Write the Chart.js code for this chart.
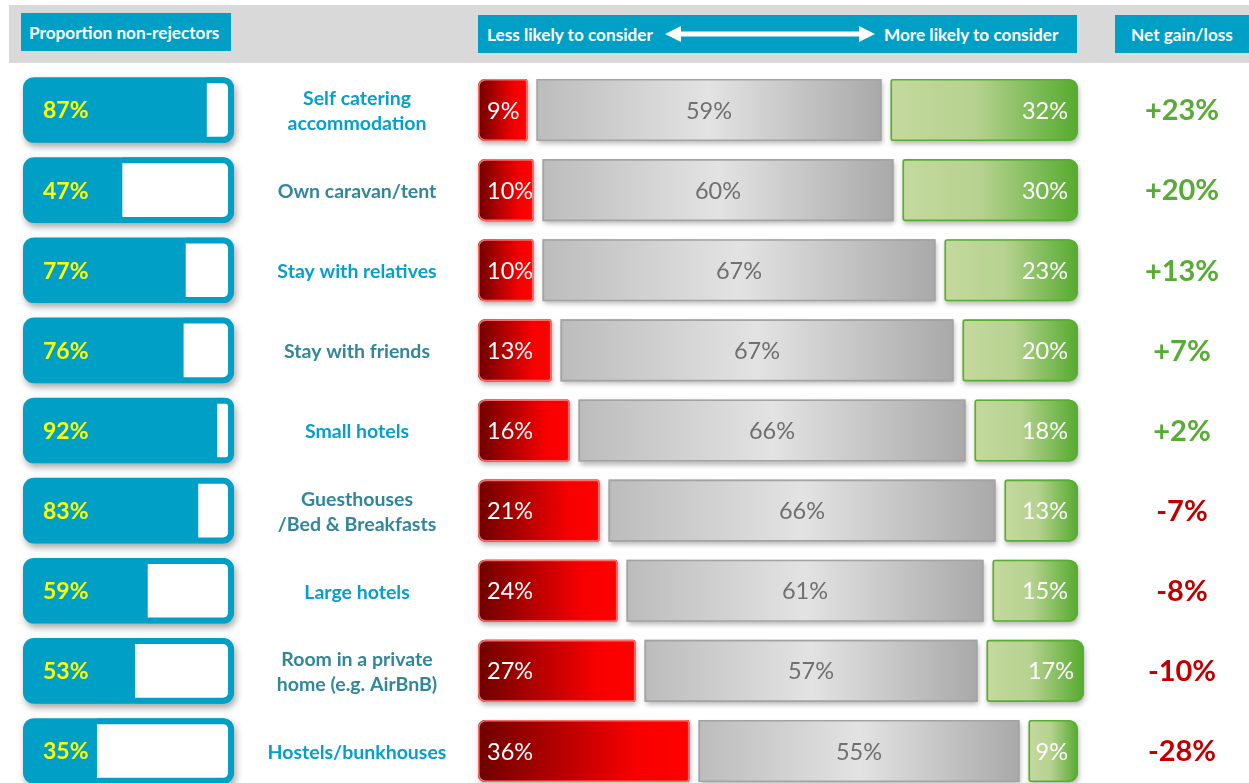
<!DOCTYPE html>
<html>
<head>
<meta charset="utf-8">
<title>Accommodation types: non-rejectors and likelihood to consider</title>
<script src="https://cdn.jsdelivr.net/npm/chart.js@4.4.1/dist/chart.umd.min.js"></script>
<style>
  html, body { margin: 0; padding: 0; background: #ffffff; }
  #wrap { position: relative; width: 1249px; height: 783px; overflow: hidden; font-family: Lato, "Open Sans", sans-serif; }
  #chart { position: absolute; left: 0; top: 0; }
  .band { position: absolute; left: 9px; top: 5px; width: 1240px; height: 58px; background: #d9d9d9; }
  .hbox { position: absolute; background: #00a0c6; color: #ffffff; font-weight: 700; font-size: 17.2px;
          display: flex; align-items: center; white-space: nowrap; box-sizing: border-box; }
  .hbox span { position: absolute; }
</style>
</head>
<body>
<div id="wrap">
  <canvas id="chart" width="1249" height="783"></canvas>
  <div class="band"></div>
  <div class="hbox" style="left:21px;top:13px;width:210px;height:38px;padding-left:8px;">Proportion non-rejectors</div>
  <div class="hbox" style="left:478px;top:15px;width:599px;height:38px;">
    <span style="left:9px;">Less likely to consider</span>
    <svg style="position:absolute;left:186px;top:10px;" width="212" height="18" viewBox="0 0 212 18">
      <polygon points="1,9 17,1 17,6.5 195,6.5 195,1 211,9 195,17 195,11.5 17,11.5 17,17" fill="#ffffff"/>
    </svg>
    <span style="left:406px;">More likely to consider</span>
  </div>
  <div class="hbox" style="left:1115px;top:15px;width:134px;height:38px;justify-content:center;">Net gain/loss</div>
</div>
<script>
// Accommodation types, top to bottom
const categories = [
  ['Self catering', 'accommodation'],
  'Own caravan/tent',
  'Stay with relatives',
  'Stay with friends',
  'Small hotels',
  ['Guesthouses', '/Bed & Breakfasts'],
  'Large hotels',
  ['Room in a private', 'home (e.g. AirBnB)'],
  'Hostels/bunkhouses'
];
// Share of respondents who do not reject each type (%)
const nonRejectors = [87, 47, 77, 76, 92, 83, 59, 53, 35];
// Likelihood to consider (%)
const lessLikely = [9, 10, 10, 13, 16, 21, 24, 27, 36];
const noChange   = [59, 60, 67, 67, 66, 66, 61, 57, 55];
const moreLikely = [32, 30, 23, 20, 18, 13, 15, 17, 9];
// Net gain / loss (%)
const netChange  = [23, 20, 13, 7, 2, -7, -8, -10, -28];

const BLUE = '#00a0c6';
const FONT = 'Lato, "Open Sans", sans-serif';

// Plot area spans x 23..1078; each value axis is mapped onto its own column
const AREA_L = 23, AREA_R = 1078;
const PROP_R = 234;            // right edge of the proportion column
const DIV_L = 478;             // left edge of the likelihood column
const propMax = 100 * (AREA_R - AREA_L) / (PROP_R - AREA_L);
const divMin = -100 * (DIV_L - AREA_L) / (AREA_R - DIV_L);

const fmtPct = v => v + '%';
const fmtNet = v => (v > 0 ? '+' : '') + v + '%';

// Segment bars: gradient fill, thin edge, small gaps between segments
const segmentPlugin = {
  id: 'segments',
  beforeDatasetDraw(chart, args) {
    const ds = chart.data.datasets[args.index];
    const ctx = chart.ctx;
    if (ds.shadowed) {
      ctx.save();
      ctx.shadowColor = 'rgba(0,0,0,0.35)';
      ctx.shadowBlur = 7;
      ctx.shadowOffsetX = 2;
      ctx.shadowOffsetY = 4;
      return;
    }
    if (!ds.seg) return;
    const s = ds.seg;
    args.meta.data.forEach(el => {
      const p = el.getProps(['x', 'y', 'base', 'height'], true);
      const l = Math.min(p.x, p.base) + s.gapL;
      const r = Math.max(p.x, p.base) - s.gapR;
      const t = p.y - p.height / 2, b = p.y + p.height / 2;
      const g = ctx.createLinearGradient(l, 0, r, 0);
      s.stops.forEach(([o, c]) => g.addColorStop(o, c));
      ctx.save();
      ctx.beginPath();
      ctx.roundRect(l, t, r - l, b - t, s.radii);
      ctx.shadowColor = 'rgba(0,0,0,0.28)';
      ctx.shadowBlur = 5;
      ctx.shadowOffsetX = 1;
      ctx.shadowOffsetY = 3;
      ctx.fillStyle = g;
      ctx.fill();
      ctx.shadowColor = 'transparent';
      ctx.lineWidth = 1.6;
      ctx.strokeStyle = s.edge;
      ctx.beginPath();
      ctx.roundRect(l + 0.8, t + 0.8, r - l - 1.6, b - t - 1.6, s.radii);
      ctx.stroke();
      ctx.restore();
    });
    return false;
  },
  afterDatasetDraw(chart, args) {
    const ds = chart.data.datasets[args.index];
    if (ds.shadowed) chart.ctx.restore();
  }
};

// Text: proportion values, category names, segment values, net change
const labelPlugin = {
  id: 'rowLabels',
  afterDatasetsDraw(chart) {
    const ctx = chart.ctx;
    const y = chart.scales.y, xp = chart.scales.xp;
    const segs = [2, 3, 4].map(i => chart.getDatasetMeta(i));
    ctx.save();
    ctx.textBaseline = 'middle';
    categories.forEach((cat, i) => {
      const cy = y.getPixelForValue(i);
      // proportion of non-rejectors
      ctx.font = '700 23px ' + FONT;
      ctx.fillStyle = '#ffff00';
      ctx.textAlign = 'left';
      ctx.fillText(fmtPct(nonRejectors[i]), xp.getPixelForValue(0) + 20, cy + 1);
      // category name
      ctx.font = '700 19.5px ' + FONT;
      ctx.fillStyle = i % 2 === 0 ? '#069fca' : '#31869b';
      ctx.textAlign = 'center';
      const lines = Array.isArray(cat) ? cat : [cat];
      lines.forEach((ln, k) => {
        ctx.fillText(ln, 357, cy + 1.5 + (k - (lines.length - 1) / 2) * 25);
      });
      // segment values
      ctx.font = '400 23.5px ' + FONT;
      const red = segs[0].data[i].getProps(['x', 'base'], true);
      const grey = segs[1].data[i].getProps(['x', 'base'], true);
      const green = segs[2].data[i].getProps(['x', 'base'], true);
      ctx.fillStyle = '#ffffff';
      ctx.textAlign = 'left';
      ctx.fillText(fmtPct(lessLikely[i]), Math.min(red.x, red.base) + 9, cy + 1);
      ctx.fillStyle = '#707070';
      ctx.textAlign = 'center';
      ctx.fillText(fmtPct(noChange[i]), (grey.x + grey.base) / 2, cy + 1);
      ctx.fillStyle = '#ffffff';
      ctx.textAlign = 'right';
      ctx.fillText(fmtPct(moreLikely[i]), Math.max(green.x, green.base) - 10, cy + 1);
      // net change
      ctx.font = '700 29px ' + FONT;
      ctx.fillStyle = netChange[i] > 0 ? '#58ab35' : '#c00000';
      ctx.textAlign = 'center';
      ctx.fillText(fmtNet(netChange[i]), 1182, cy + 1);
    });
    ctx.restore();
  }
};

const segCommon = { xAxisID: 'xs', stack: 'likelihood', grouped: false, clip: false,
                    barPercentage: 0.775, categoryPercentage: 1, order: 0 };

new Chart(document.getElementById('chart'), {
  type: 'bar',
  data: {
    labels: categories,
    datasets: [
      {
        label: 'All respondents',
        data: nonRejectors.map(() => 100),
        xAxisID: 'xp', grouped: false, clip: false, shadowed: true, order: 2,
        backgroundColor: BLUE, borderWidth: 0, borderRadius: 11, borderSkipped: false,
        barPercentage: 0.82, categoryPercentage: 1
      },
      {
        label: 'Rejectors',
        data: nonRejectors.map(v => [v, 100]),
        xAxisID: 'xp', grouped: false, clip: false, order: 1,
        backgroundColor: '#ffffff', borderColor: BLUE,
        borderWidth: { left: 0, top: 6, right: 6, bottom: 6 },
        borderRadius: { topLeft: 0, bottomLeft: 0, topRight: 11, bottomRight: 11 },
        borderSkipped: false,
        barPercentage: 0.82, categoryPercentage: 1
      },
      Object.assign({
        label: 'Less likely to consider', data: lessLikely,
        seg: { gapL: 0, gapR: 4.5, radii: [7, 2, 2, 7], edge: '#ff6b6b',
               stops: [[0, '#6e0000'], [0.35, '#b00000'], [0.75, '#f80000'], [1, '#ff0000']] }
      }, segCommon),
      Object.assign({
        label: 'No change', data: noChange,
        seg: { gapL: 4.5, gapR: 4.5, radii: [0, 0, 0, 0], edge: '#a3a3a3',
               stops: [[0, '#bcbcbc'], [0.5, '#e3e3e3'], [1, '#a9a9a9']] }
      }, segCommon),
      Object.assign({
        label: 'More likely to consider', data: moreLikely,
        seg: { gapL: 4.5, gapR: 0, radii: [2, 9, 9, 2], edge: '#5aad33',
               stops: [[0, '#c4d99e'], [0.45, '#b6d290'], [1, '#55ab2e']] }
      }, segCommon)
    ]
  },
  options: {
    indexAxis: 'y',
    responsive: false,
    animation: false,
    devicePixelRatio: 1,
    layout: { padding: { left: AREA_L, right: 1249 - AREA_R, top: 110, bottom: 32 } },
    plugins: { legend: { display: false }, tooltip: { enabled: false } },
    scales: {
      y: { type: 'category', offset: false, display: false, grid: { display: false } },
      xp: { type: 'linear', axis: 'x', min: 0, max: propMax, display: false },
      xs: { type: 'linear', axis: 'x', min: divMin, max: 100, stacked: true, display: false }
    }
  },
  plugins: [segmentPlugin, labelPlugin]
});
</script>
</body>
</html>
